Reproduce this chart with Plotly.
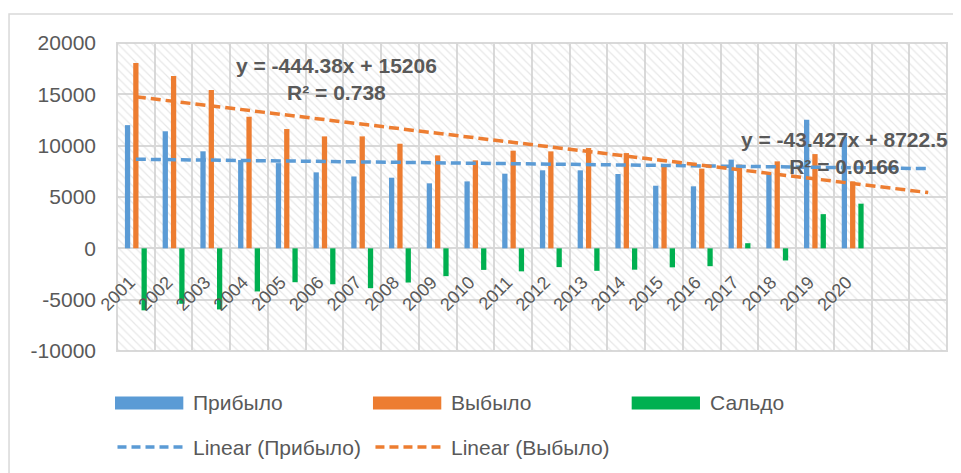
import plotly.graph_objects as go

# ---------------- data ----------------
years = ["2001", "2002", "2003", "2004", "2005", "2006", "2007", "2008", "2009", "2010",
         "2011", "2012", "2013", "2014", "2015", "2016", "2017", "2018", "2019", "2020"]
arrived = [12000, 11400, 9450, 8600, 8300, 7400, 7000, 6880, 6330, 6520,
           7270, 7600, 7600, 7240, 6100, 6040, 8640, 7300, 12530, 10840]
departed = [18040, 16780, 15420, 12820, 11620, 10905, 10905, 10190, 9060, 8570,
            9510, 9445, 9770, 9280, 7985, 7760, 8150, 8470, 9180, 6520]
balance = [-6040, -5400, -5950, -4200, -3300, -3500, -3880, -3330, -2710, -2100,
           -2240, -1830, -2190, -2080, -1850, -1740, 500, -1180, 3330, 4350]

series_names = ["Прибыло", "Выбыло", "Сальдо"]
trend_names = ["Linear (Прибыло)", "Linear (Выбыло)"]

y_ticks = [-10000, -5000, 0, 5000, 10000, 15000, 20000]
y_tick_labels = ["-10000", "-5000", "0", "5000", "10000", "15000", "20000"]

# linear trend coefficients shown on the chart (Excel x = 1..n)
trend_arrived = (-43.427, 8722.5, "0.0166")
trend_departed = (-444.38, 15206, "0.738")
forecast_periods = 2

# ---------------- styling ----------------
BLUE = "#5B9BD5"
ORANGE = "#ED7D31"
GREEN = "#00B050"
GRID = "#D9D9D9"
TEXT = "#595959"
FONT = "Liberation Sans"
FS = 21

n = len(years)
pos = list(range(1, n + 1))
n_slots = n + forecast_periods
x_range = [0.5, n_slots + 0.5]
y_range = [y_ticks[0], y_ticks[-1]]
bar_w = 0.14

fig = go.Figure()

# hatched plot-area background
fig.add_trace(go.Bar(
    x=[(x_range[0] + x_range[1]) / 2], y=[y_range[1] - y_range[0]], base=[y_range[0]],
    width=[x_range[1] - x_range[0]],
    marker=dict(color="rgba(0,0,0,0)", line=dict(width=0),
                pattern=dict(shape="\\", fgcolor="#D0D0D0", size=6, solidity=0.2)),
    hoverinfo="skip", showlegend=False))

for vals, color, off, name in [(arrived, BLUE, -0.22, series_names[0]),
                               (departed, ORANGE, 0.0, series_names[1]),
                               (balance, GREEN, 0.22, series_names[2])]:
    fig.add_trace(go.Bar(x=pos, y=vals, width=bar_w, offset=off - bar_w / 2,
                         marker=dict(color=color, line=dict(width=0)),
                         name=name, showlegend=False))

trend_x = [1, n_slots]
for (slope, icpt, r2), color, name in [(trend_arrived, BLUE, trend_names[0]),
                                       (trend_departed, ORANGE, trend_names[1])]:
    fig.add_trace(go.Scatter(x=trend_x, y=[slope * t + icpt for t in trend_x],
                             mode="lines", name=name, showlegend=False,
                             line=dict(color=color, width=3.5, dash="10px,5px")))

# trendline equations
def eq_text(slope, icpt, r2):
    return f"<b>y = {slope}x + {icpt}<br>R² = {r2}</b>"

fig.add_annotation(x=6.31, y=16460, xref="x", yref="y", text=eq_text(*trend_departed),
                   showarrow=False, font=dict(family=FONT, size=FS, color=TEXT),
                   align="center")
fig.add_annotation(x=19.78, y=9300, xref="x", yref="y", text=eq_text(*trend_arrived),
                   showarrow=False, font=dict(family=FONT, size=FS, color=TEXT),
                   align="center")

# shapes: plot border and chart border
shapes = [
    dict(type="rect", xref="paper", yref="paper", x0=0, x1=1, y0=0, y1=1,
         line=dict(color=GRID, width=2), layer="below"),
    dict(type="rect", xref="paper", yref="paper", x0=-0.1301, x1=1.2, y0=-1.0, y1=1.0942,
         line=dict(color=GRID, width=1.5), layer="below"),
]

# custom legend
legend_rows = [
    [(series_names[0], BLUE, "bar"), (series_names[1], ORANGE, "bar"), (series_names[2], GREEN, "bar")],
    [(trend_names[0], BLUE, "line"), (trend_names[1], ORANGE, "line")],
]
col_x = [-0.0024, 0.3084, 0.6201]
row_y = [-0.1688, -0.3117]
sw = 0.0823
for r, row in enumerate(legend_rows):
    for c, (label, color, kind) in enumerate(row):
        x0 = col_x[c]
        y = row_y[r]
        if kind == "bar":
            shapes.append(dict(type="rect", xref="paper", yref="paper", x0=x0, x1=x0 + sw,
                               y0=y - 0.0211, y1=y + 0.0211, fillcolor=color,
                               line=dict(width=0)))
        else:
            shapes.append(dict(type="line", xref="paper", yref="paper", x0=x0 + 0.003,
                               x1=x0 + sw, y0=y, y1=y,
                               line=dict(color=color, width=3.5, dash="9px,5px")))
        fig.add_annotation(x=x0 + sw + 0.0095, y=y, xref="paper", yref="paper",
                           text=label, showarrow=False, xanchor="left", yanchor="middle",
                           font=dict(family=FONT, size=FS, color=TEXT))

# the page body has an 8px margin, so the figure is 8px smaller and shifted
fig.update_layout(
    width=953, height=465,
    margin=dict(l=109, r=14, t=35, b=122, autoexpand=False),
    paper_bgcolor="white", plot_bgcolor="white",
    barmode="overlay",
    showlegend=False,
    shapes=shapes,
    font=dict(family=FONT, size=FS, color=TEXT),
)

fig.update_xaxes(
    range=x_range, tickmode="array", tickvals=pos, ticktext=years,
    tickangle=-45, showgrid=False, zeroline=False, showline=False, ticks="",
    anchor="free", position=(0 - y_range[0]) / (y_range[1] - y_range[0]),
    automargin=False, ticklabelstandoff=19, ticklabelshift=-6,
    tickfont=dict(family=FONT, size=18, color=TEXT),
    minor=dict(tickmode="array", tickvals=[i + 0.5 for i in range(0, n_slots + 1)],
               showgrid=True, gridcolor=GRID, gridwidth=2, ticks=""),
)
fig.update_yaxes(
    range=y_range, tickmode="array", tickvals=y_ticks, ticktext=y_tick_labels,
    showgrid=True, gridcolor=GRID, gridwidth=2,
    zeroline=True, zerolinecolor=GRID, zerolinewidth=2, showline=False, ticks="",
    automargin=False, ticklabelstandoff=20,
    tickfont=dict(family=FONT, size=FS, color=TEXT),
)

fig.write_html("out.html")
